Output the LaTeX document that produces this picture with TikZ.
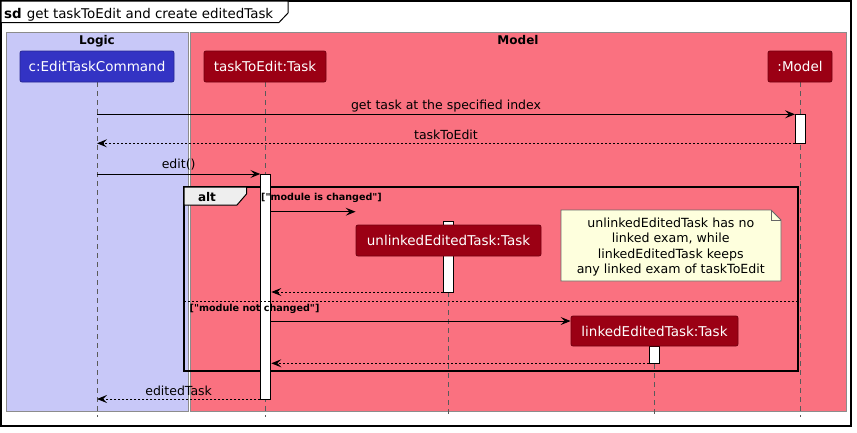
\documentclass[tikz,border=0pt]{standalone}
\usepackage{fontspec}
\setmainfont{DejaVu Sans}[Ligatures=TeXOff]
\usetikzlibrary{arrows.meta}
\definecolor{logicbg}{RGB}{200,200,248}
\definecolor{modelbg}{RGB}{250,113,128}
\definecolor{partblue}{RGB}{51,51,196}
\definecolor{partred}{RGB}{155,0,20}
\definecolor{notebg}{RGB}{254,255,221}
\definecolor{altgrey}{RGB}{238,238,238}
\definecolor{lifegrey}{RGB}{90,90,90}
\begin{document}
\begin{tikzpicture}[x=1pt,y=-1pt,
  groupbox/.style={draw=gray!90, line width=1pt},
  grouplabel/.style={font=\fontsize{12}{14}\selectfont\bfseries, anchor=base, inner sep=0},
  partbox/.style={rounded corners=2pt, text=white, inner sep=0, font=\fontsize{13.5}{16}\selectfont, line width=0.8pt},
  redpart/.style={partbox, fill=partred, draw=partred!75!black},
  bluepart/.style={partbox, fill=partblue, draw=partblue!75!black},
  lifeline/.style={draw=lifegrey, line width=0.8pt, dash pattern=on 5pt off 4pt},
  actbox/.style={draw=black, fill=white, line width=1pt, minimum width=10pt, inner sep=0},
  msg/.style={draw=black, line width=1pt, -{Stealth[length=10pt,width=8pt,inset=4pt]}},
  ret/.style={msg, dash pattern=on 2pt off 2pt},
  msglabel/.style={font=\fontsize{12.5}{15}\selectfont, anchor=base, inner sep=0},
  guard/.style={font=\fontsize{9.6}{11}\selectfont\bfseries, anchor=base west, inner sep=0}
]
\useasboundingbox (0,0) rectangle (857,432);
\fill[white] (0,0) rectangle (857,432);

% group boxes
\draw[groupbox, fill=logicbg] (6,32) rectangle (188,411.5);
\draw[groupbox, fill=modelbg] (190,32) rectangle (846.5,411.5);
\node[grouplabel] (logiclbl) at (97,44) {Logic};
\node[grouplabel] (modellbl) at (518,44) {Model};

% outer frame and title
\draw[line width=1.5pt] (1,1) rectangle (851,426);
\draw[line width=1pt, fill=white] (1,1) -- (288,1) -- (288,13) -- (279,22.5) -- (1,22.5) -- cycle;
\node[anchor=base west, inner sep=0, font=\fontsize{13.4}{16}\selectfont] (title) at (4,18.5) {\textbf{sd}\hspace{5pt}get taskToEdit and create editedTask};

% participants (positions)
\coordinate (cmdc) at (97,66.5);
\coordinate (tasktc) at (265,66.5);
\coordinate (modelc) at (800,66.5);

% lifelines
\coordinate (cmdend) at (97,417);
\coordinate (taskend) at (265.5,417);
\coordinate (modelend) at (800.5,417);
\coordinate (unlend) at (448.5,417);
\coordinate (linkend) at (654.5,417);
\draw[lifeline] (97,82) -- (cmdend);
\draw[lifeline] (265.5,82) -- (taskend);
\draw[lifeline] (800.5,82) -- (modelend);
\draw[lifeline] (448.5,256) -- (unlend);
\draw[lifeline] (654.5,346) -- (linkend);

% alt frame
\draw[line width=1.6pt] (184,187) rectangle (798,371);
\draw[line width=1pt, fill=altgrey] (184,187) -- (246.5,187) -- (246.5,194) -- (237,205) -- (184,205) -- cycle;
\node[font=\fontsize{12}{14}\selectfont\bfseries, anchor=base, inner sep=0] (altlbl) at (207,201) {alt};

% note
\draw[draw=gray!80!black, line width=0.8pt, fill=notebg] (561,210) -- (771,210) -- (781,220) -- (781,281) -- (561,281) -- cycle;
\draw[draw=gray!80!black, line width=0.8pt] (771,210) -- (771,220) -- (781,220);
\node[align=center, inner sep=0, font=\fontsize{12.6}{15.3}\selectfont] (note) at (670.8,247) {unlinkedEditedTask has no\\linked exam, while\\linkedEditedTask keeps\\any linked exam of taskToEdit};

% activations
\node[actbox, minimum height=29pt] (actmodel) at (800.5,128.8) {};
\node[actbox, minimum height=225pt] (acttask) at (265.8,286.5) {};
\node[actbox, minimum height=70.3pt] (actunl) at (448.5,256.85) {};
\node[actbox, minimum height=17.3pt] (actlink) at (654.3,354.65) {};

% guards and separator (over activations)
\node[guard] (guard1) at (261,200) {["module is changed"]};
\draw[line width=0.8pt, dash pattern=on 2pt off 2pt] (184,301.7) -- (798,301.7);
\node[guard] (guard2) at (189.5,311) {["module not changed"]};

% participants
\node[bluepart, minimum width=154pt, minimum height=31pt] (cmd) at (cmdc) {c:EditTaskCommand};
\node[redpart, minimum width=122pt, minimum height=31pt] (taskt) at (tasktc) {taskToEdit:Task};
\node[redpart, minimum width=64pt, minimum height=31pt] (model) at (modelc) {:Model};
\node[redpart, minimum width=185pt, minimum height=31pt] (unl) at (448.5,240.5) {unlinkedEditedTask:Task};
\node[redpart, minimum width=167pt, minimum height=30pt] (link) at (654.5,331) {linkedEditedTask:Task};

% messages
\draw[msg] (cmd |- 0,114.3) -- (actmodel.west |- 0,114.3) node[msglabel, pos=0.5, yshift=5pt] (m1) {get task at the specified index};
\draw[ret] (actmodel.west |- 0,143.3) -- (cmd |- 0,143.3) node[msglabel, pos=0.5, yshift=4pt] (m2) {taskToEdit};
\draw[msg] (cmd |- 0,174) -- (acttask.west |- 0,174) node[msglabel, pos=0.5, yshift=6pt] (m3) {edit()};
\draw[msg] (acttask.east |- 0,211.7) -- (unl.west |- 0,211.7);
\draw[ret] (actunl.west |- 0,292) -- (acttask.east |- 0,292);
\draw[msg] (acttask.east |- 0,321) -- (link.west |- 0,321);
\draw[ret] (actlink.west |- 0,363.3) -- (acttask.east |- 0,363.3);
\draw[ret] (acttask.west |- 0,399) -- (cmd |- 0,399) node[msglabel, pos=0.5, yshift=4pt] (m4) {editedTask};
\end{tikzpicture}
\end{document}
